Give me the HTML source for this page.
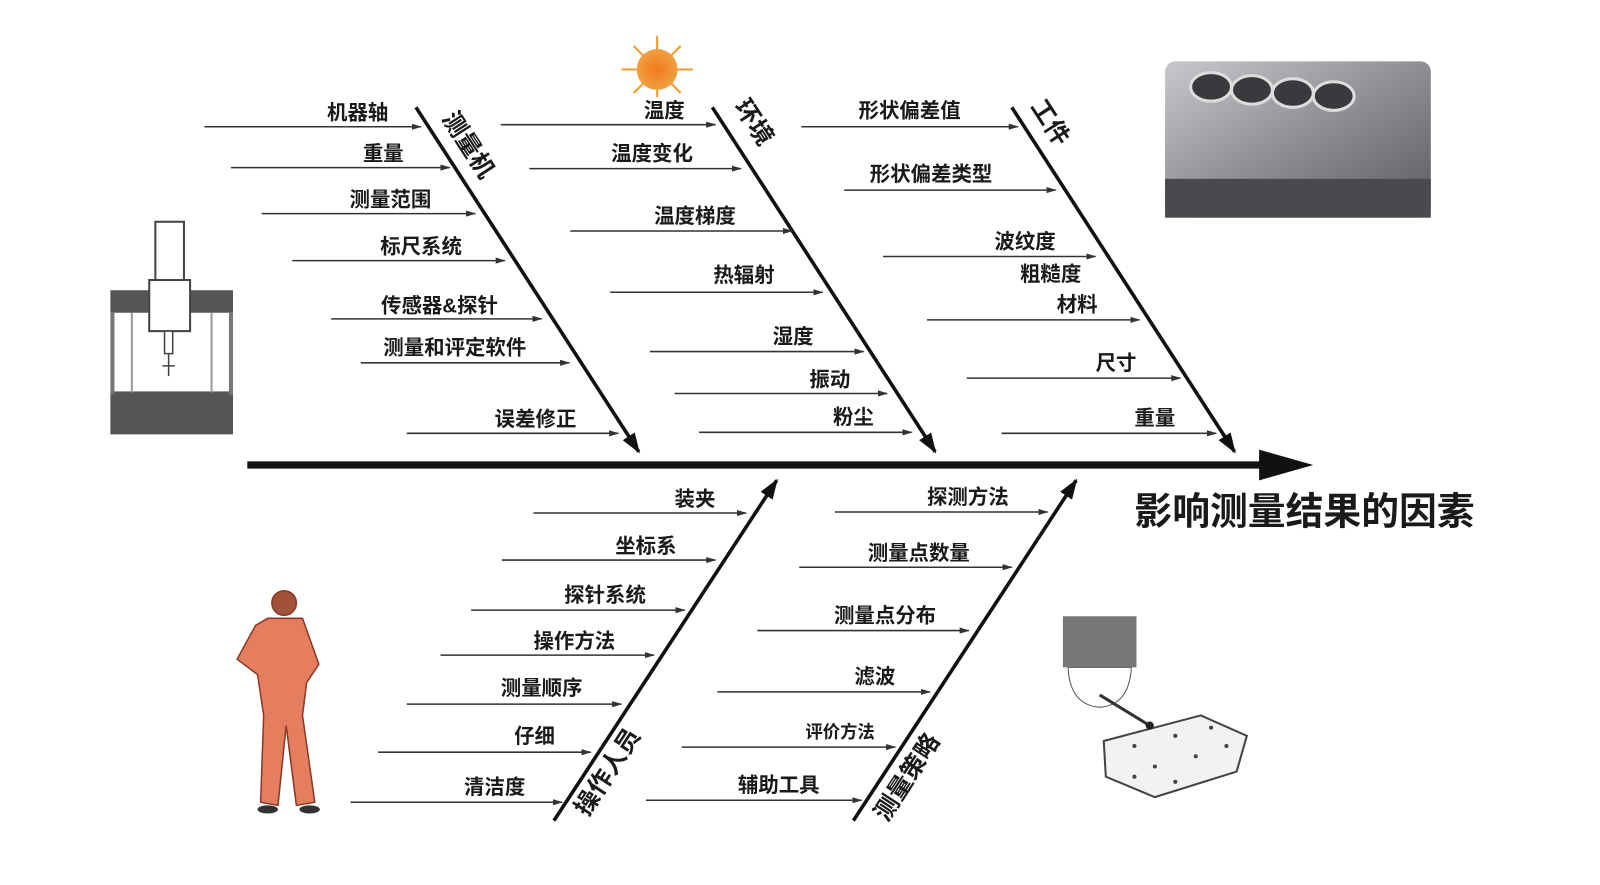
<!DOCTYPE html>
<html><head><meta charset="utf-8"><style>
html,body{margin:0;padding:0;background:#fff;}
svg{display:block;}
text{font-family:"Liberation Sans","Noto Sans CJK SC",sans-serif;fill:#1a1a1a;font-weight:bold;}
</style></head><body>
<svg width="1600" height="885" viewBox="0 0 1600 885" xmlns="http://www.w3.org/2000/svg">
<defs>
<marker id="a" markerWidth="10" markerHeight="8" refX="9" refY="4" orient="auto" markerUnits="userSpaceOnUse"><path d="M0,1 L10,4 L0,7 z" fill="#333"/></marker>
<marker id="b" markerWidth="20" markerHeight="14" refX="18" refY="7" orient="auto" markerUnits="userSpaceOnUse"><path d="M0,0 L20,7 L0,14 z" fill="#111"/></marker>
<radialGradient id="sun"><stop offset="0" stop-color="#f37a1f"/><stop offset="1" stop-color="#f0a040"/></radialGradient>
<linearGradient id="eng" x1="0" y1="0" x2="1" y2="1"><stop offset="0" stop-color="#c8c8cc"/><stop offset="0.5" stop-color="#8e8e94"/><stop offset="1" stop-color="#5a5a5e"/></linearGradient>
</defs>
<g transform="scale(1.022)">
<line x1="242" y1="455" x2="1240" y2="455" stroke="#111" stroke-width="7"/>
<path d="M1232,440 L1285,455 L1232,470 z" fill="#111"/>

<g stroke="#111" stroke-width="3.5" marker-end="url(#b)">
<line x1="407" y1="105" x2="625" y2="442"/>
<line x1="697" y1="105" x2="915" y2="442"/>
<line x1="990" y1="105" x2="1208" y2="442"/>
<line x1="542" y1="803" x2="760" y2="470"/>
<line x1="835" y1="803" x2="1053" y2="470"/>
</g>

<g stroke="#333" stroke-width="1.5" marker-end="url(#a)">
<line x1="200" y1="124" x2="412" y2="124"/>
<line x1="226" y1="164" x2="440" y2="164"/>
<line x1="256" y1="209" x2="465" y2="209"/>
<line x1="286" y1="255" x2="494" y2="255"/>
<line x1="324" y1="312" x2="530" y2="312"/>
<line x1="353" y1="355" x2="557" y2="355"/>
<line x1="398" y1="424" x2="605" y2="424"/>

<line x1="490" y1="122" x2="700" y2="122"/>
<line x1="518" y1="165" x2="725" y2="165"/>
<line x1="558" y1="226" x2="775" y2="226"/>
<line x1="597" y1="286" x2="805" y2="286"/>
<line x1="636" y1="344" x2="845" y2="344"/>
<line x1="660" y1="385" x2="868" y2="385"/>
<line x1="684" y1="423" x2="892" y2="423"/>

<line x1="784" y1="124" x2="996" y2="124"/>
<line x1="826" y1="186" x2="1033" y2="186"/>
<line x1="864" y1="251" x2="1072" y2="251"/>
<line x1="907" y1="313" x2="1115" y2="313"/>
<line x1="946" y1="370" x2="1155" y2="370"/>
<line x1="980" y1="424" x2="1190" y2="424"/>

<line x1="522" y1="502" x2="730" y2="502"/>
<line x1="491" y1="548" x2="700" y2="548"/>
<line x1="461" y1="597" x2="670" y2="597"/>
<line x1="431" y1="641" x2="640" y2="641"/>
<line x1="398" y1="689" x2="608" y2="689"/>
<line x1="370" y1="736" x2="578" y2="736"/>
<line x1="343" y1="785" x2="550" y2="785"/>

<line x1="817" y1="501" x2="1025" y2="501"/>
<line x1="782" y1="555" x2="990" y2="555"/>
<line x1="741" y1="617" x2="948" y2="617"/>
<line x1="702" y1="677" x2="910" y2="677"/>
<line x1="667" y1="731" x2="876" y2="731"/>
<line x1="632" y1="783" x2="843" y2="783"/>
</g>

<g font-size="20" text-anchor="middle">
<text x="350" y="117">机器轴</text>
<text x="375" y="157">重量</text>
<text x="382" y="202">测量范围</text>
<text x="412" y="248">标尺系统</text>
<text x="430" y="306">传感器&amp;探针</text>
<text x="445" y="347">测量和评定软件</text>
<text x="524" y="417">误差修正</text>

<text x="650" y="115">温度</text>
<text x="638" y="157">温度变化</text>
<text x="680" y="218">温度梯度</text>
<text x="728" y="276">热辐射</text>
<text x="776" y="336">湿度</text>
<text x="812" y="378">振动</text>
<text x="835" y="415">粉尘</text>

<text x="890" y="115">形状偏差值</text>
<text x="911" y="177">形状偏差类型</text>
<text x="1003" y="243">波纹度</text>
<text x="1028" y="275">粗糙度</text>
<text x="1054" y="305">材料</text>
<text x="1092" y="362">尺寸</text>
<text x="1130" y="416">重量</text>

<text x="680" y="495">装夹</text>
<text x="632" y="541">坐标系</text>
<text x="592" y="589">探针系统</text>
<text x="562" y="634">操作方法</text>
<text x="530" y="680">测量顺序</text>
<text x="523" y="727">仔细</text>
<text x="484" y="777">清洁度</text>

<text x="947" y="493">探测方法</text>
<text x="899" y="548">测量点数量</text>
<text x="866" y="609">测量点分布</text>
<text x="856" y="669">滤波</text>
<text x="822" y="722" font-size="17">评价方法</text>
<text x="762" y="775">辅助工具</text>
</g>

<g font-size="24">
<text transform="translate(432,116) rotate(57)">测量机</text>
<text transform="translate(718,104) rotate(57)">环境</text>
<text transform="translate(1008,104) rotate(57)">工件</text>
<text transform="translate(575,800) rotate(-57)">操作人员</text>
<text transform="translate(868,805) rotate(-57)">测量策略</text>
</g>
<text x="1110" y="513" font-size="37">影响测量结果的因素</text>

<g stroke="#f39a2a" stroke-width="2">
<line x1="643" y1="35" x2="643" y2="95"/><line x1="608" y1="68" x2="678" y2="68"/>
<line x1="620" y1="45" x2="666" y2="91"/><line x1="666" y1="45" x2="620" y2="91"/>
</g>
<circle cx="643" cy="68" r="20" fill="url(#sun)"/>

<rect x="108" y="383" width="120" height="42" fill="#555"/>
<rect x="108" y="284" width="120" height="22" fill="#555"/>
<rect x="108" y="306" width="4" height="80" fill="#777"/>
<rect x="224" y="306" width="4" height="80" fill="#777"/>
<rect x="128" y="306" width="2" height="78" fill="#999"/>
<rect x="206" y="306" width="2" height="78" fill="#999"/>
<rect x="152" y="217" width="28" height="58" fill="#fff" stroke="#444" stroke-width="2"/>
<rect x="146" y="274" width="40" height="50" fill="#fff" stroke="#444" stroke-width="2"/>
<rect x="161" y="324" width="8" height="22" fill="#fff" stroke="#444" stroke-width="1.5"/>
<line x1="165" y1="346" x2="165" y2="368" stroke="#444" stroke-width="1.5"/>
<line x1="159" y1="358" x2="171" y2="358" stroke="#444" stroke-width="1.5"/>

<rect x="1140" y="60" width="260" height="153" rx="10" fill="url(#eng)"/>
<rect x="1140" y="175" width="260" height="38" fill="#4a4a4e"/>
<g fill="#3a3a3e" stroke="#ddd" stroke-width="3">
<ellipse cx="1185" cy="85" rx="20" ry="14"/><ellipse cx="1225" cy="88" rx="20" ry="14"/>
<ellipse cx="1265" cy="91" rx="20" ry="14"/><ellipse cx="1305" cy="94" rx="20" ry="14"/>
</g>

<g fill="#e57e5f" stroke="#8a3a26" stroke-width="1.5">
<circle cx="278" cy="590" r="12" fill="#a0523a"/>
<path d="M262,605 L296,605 L312,650 L300,668 L296,700 L308,785 L290,788 L280,710 L272,788 L255,785 L258,700 L252,660 L232,645 L250,612 z"/>
</g>
<ellipse cx="262" cy="792" rx="10" ry="4" fill="#333"/><ellipse cx="303" cy="792" rx="10" ry="4" fill="#333"/>

<rect x="1040" y="603" width="72" height="50" fill="#777"/>
<path d="M1045,653 L1107,653 Q1105,690 1076,692 Q1047,690 1045,653 z" fill="#fff" stroke="#555"/>
<line x1="1076" y1="680" x2="1125" y2="710" stroke="#333" stroke-width="3"/>
<path d="M1080,725 L1175,700 L1220,720 L1210,755 L1130,780 L1082,760 z" fill="#f2f2f2" stroke="#444" stroke-width="2"/>
<circle cx="1125" cy="710" r="4" fill="#222"/>
<g fill="#444"><circle cx="1110" cy="730" r="2"/><circle cx="1150" cy="720" r="2"/><circle cx="1185" cy="712" r="2"/><circle cx="1130" cy="750" r="2"/><circle cx="1170" cy="740" r="2"/><circle cx="1200" cy="730" r="2"/><circle cx="1110" cy="760" r="2"/><circle cx="1150" cy="765" r="2"/></g>
</g>
</svg>
</body></html>
